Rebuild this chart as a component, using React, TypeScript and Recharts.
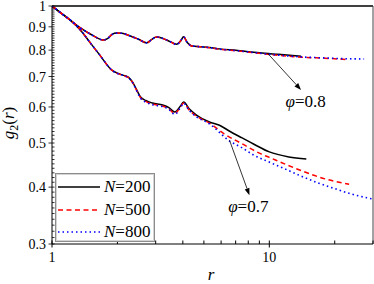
import React from "react";
import {
  Legend,
  Line,
  LineChart,
  ReferenceDot,
  ReferenceLine,
  XAxis,
  YAxis,
} from "recharts";

// phi = 0.8 branch
const r08n200 = [1, 1.1, 1.21, 1.35, 1.5, 1.62, 1.71, 1.8, 1.89, 1.98, 2.1, 2.28, 2.5, 2.73, 2.88, 3.03, 3.25, 3.5, 3.74, 3.92, 4.03, 4.2, 4.4, 4.8, 5.3, 5.9, 7, 9, 11, 14];
const g08n200 = [1, 0.965, 0.932, 0.895, 0.868, 0.85, 0.842, 0.848, 0.866, 0.872, 0.871, 0.86, 0.845, 0.83, 0.845, 0.855, 0.848, 0.835, 0.824, 0.84, 0.856, 0.83, 0.817, 0.814, 0.811, 0.805, 0.799, 0.789, 0.783, 0.776];
const r08n500 = [1, 1.1, 1.21, 1.35, 1.5, 1.62, 1.71, 1.8, 1.89, 1.98, 2.1, 2.28, 2.5, 2.73, 2.88, 3.03, 3.25, 3.5, 3.74, 3.92, 4.03, 4.2, 4.4, 4.8, 5.3, 5.9, 7, 9, 11, 14, 18, 22.5];
const g08n500 = [1, 0.965, 0.932, 0.895, 0.868, 0.85, 0.842, 0.848, 0.866, 0.872, 0.871, 0.86, 0.845, 0.83, 0.845, 0.855, 0.848, 0.835, 0.823, 0.84, 0.855, 0.83, 0.817, 0.814, 0.81, 0.804, 0.798, 0.787, 0.779, 0.772, 0.768, 0.763];
const r08n800 = [1, 1.1, 1.21, 1.35, 1.5, 1.62, 1.71, 1.8, 1.89, 1.98, 2.1, 2.28, 2.5, 2.73, 2.88, 3.03, 3.25, 3.5, 3.74, 3.92, 4.03, 4.2, 4.4, 4.8, 5.3, 5.9, 7, 9, 11, 14, 18, 22, 27.3];
const g08n800 = [1, 0.965, 0.932, 0.895, 0.868, 0.85, 0.842, 0.848, 0.866, 0.872, 0.871, 0.86, 0.845, 0.83, 0.845, 0.855, 0.848, 0.835, 0.823, 0.84, 0.855, 0.83, 0.817, 0.814, 0.81, 0.804, 0.798, 0.788, 0.78, 0.773, 0.769, 0.766, 0.765];

// phi = 0.7 branch
const r07n200 = [1, 1.1, 1.21, 1.35, 1.5, 1.66, 1.885, 2.0, 2.12, 2.25, 2.35, 2.45, 2.55, 2.7, 2.9, 3.23, 3.45, 3.67, 3.9, 4.03, 4.3, 4.62, 5.3, 5.9, 6.6, 7.5, 8.5, 10, 12.3, 14.8];
const g07n200 = [1, 0.965, 0.932, 0.886, 0.83, 0.78, 0.723, 0.712, 0.705, 0.697, 0.68, 0.655, 0.632, 0.62, 0.612, 0.606, 0.598, 0.585, 0.603, 0.615, 0.593, 0.576, 0.556, 0.547, 0.53, 0.513, 0.497, 0.478, 0.466, 0.461];
const r07n500 = [1, 1.1, 1.21, 1.35, 1.5, 1.66, 1.885, 2.0, 2.12, 2.25, 2.35, 2.45, 2.55, 2.7, 2.9, 3.23, 3.45, 3.67, 3.9, 4.03, 4.3, 4.62, 5.3, 6.3, 7.5, 9, 10, 12, 14, 16.9, 20, 23.3];
const g07n500 = [1, 0.965, 0.932, 0.886, 0.83, 0.78, 0.723, 0.711, 0.704, 0.696, 0.679, 0.653, 0.63, 0.617, 0.609, 0.603, 0.594, 0.58, 0.6, 0.612, 0.589, 0.573, 0.553, 0.521, 0.498, 0.475, 0.465, 0.448, 0.435, 0.421, 0.412, 0.406];
const r07n800 = [1, 1.1, 1.21, 1.35, 1.5, 1.66, 1.885, 2.0, 2.12, 2.25, 2.35, 2.45, 2.55, 2.7, 2.9, 3.23, 3.45, 3.67, 3.9, 4.03, 4.3, 4.62, 5.3, 6.56, 7.5, 8.5, 10, 12, 14, 16.9, 20, 24, 29.7];
const g07n800 = [1, 0.965, 0.932, 0.886, 0.83, 0.78, 0.723, 0.711, 0.704, 0.695, 0.678, 0.652, 0.628, 0.615, 0.607, 0.601, 0.593, 0.578, 0.598, 0.611, 0.588, 0.571, 0.551, 0.505, 0.488, 0.47, 0.454, 0.437, 0.423, 0.408, 0.397, 0.386, 0.377];

const legendNames = ["200", "500", "800"];
const xTicks = [1, 2, 3, 4, 5, 6, 7, 8, 9, 10, 20, 30];
const xTickLabels = ["1", "10"];
const yTickLabels = ["0.3", "0.4", "0.5", "0.6", "0.7", "0.8", "0.9", "1"];

// minor ticks every 0.01 between 0.3 and 1
const yTicks: number[] = [];
for (let k = 30; k <= 100; k++) yTicks.push(k / 100);

const pts = (rs: number[], gs: number[]) => rs.map((r, i) => ({ r, g: gs[i] }));

const FONT = "Liberation Serif, DejaVu Serif, serif";
const styles = [
  { color: "#000000", dash: undefined as string | undefined, width: 1.5 },
  { color: "#ff0000", dash: "5 3.5", width: 1.5 },
  { color: "#0000ff", dash: "1.5 3", width: 1.6 },
];

const XTick = (props: any) => {
  const { x, y, payload } = props;
  const label = String(payload.value);
  const major = xTickLabels.includes(label);
  return (
    <g>
      <line x1={x} x2={x} y1={major ? y + 3.5 : y} y2={y - 3.5} stroke="#000" strokeWidth={1} />
      {major && (
        <text x={x} y={y + 18} textAnchor="middle" fontSize={14} fontFamily={FONT} fill="#000">
          {label}
        </text>
      )}
    </g>
  );
};

const YTick = (props: any) => {
  const { x, y, payload } = props;
  const label = String(Math.round(payload.value * 10) / 10);
  const major = Math.round(payload.value * 100) % 10 === 0 && yTickLabels.includes(label);
  return (
    <g>
      <line x1={major ? x - 3.5 : x} x2={x + 2.5} y1={y} y2={y} stroke="#000" strokeWidth={0.8} />
      {major && (
        <text x={x - 6} y={y + 5} textAnchor="end" fontSize={14} fontFamily={FONT} fill="#000">
          {label}
        </text>
      )}
    </g>
  );
};

const Arrow = (props: any) => {
  const { x1, y1, x2, y2 } = props;
  const a = Math.atan2(y2 - y1, x2 - x1);
  const hl = 7;
  const hw = 2.5;
  const bx = x2 - hl * Math.cos(a);
  const by = y2 - hl * Math.sin(a);
  const px = -Math.sin(a) * hw;
  const py = Math.cos(a) * hw;
  return (
    <g>
      <line x1={x1} y1={y1} x2={bx} y2={by} stroke="#000" strokeWidth={0.8} />
      <polygon points={`${x2},${y2} ${bx + px},${by + py} ${bx - px},${by - py}`} fill="#000" />
    </g>
  );
};

const PhiLabel = (value: string) => (props: any) => (
  <text x={props.cx} y={props.cy + 6} textAnchor="middle" fontSize={17} fontFamily={FONT} fill="#000">
    <tspan fontStyle="italic">φ</tspan>={value}
  </text>
);

const LegendBox = () => (
  <div
    style={{
      position: "relative",
      width: 100,
      height: 69,
      boxSizing: "border-box",
      border: "1px solid #8c8c8c",
      boxShadow: "inset 0 0 0 1px #d4d4d4",
      background: "#fff",
      fontFamily: FONT,
      fontSize: 17,
      color: "#000",
    }}
  >
    {legendNames.map((n, i) => (
      <div key={n} style={{ position: "absolute", left: 1, top: 2 + i * 22.5, height: 22, width: 96 }}>
        <svg width={44} height={22} style={{ position: "absolute", left: 0, top: 0 }}>
          <line
            x1={1}
            x2={43}
            y1={11}
            y2={11}
            stroke={styles[i].color}
            strokeWidth={styles[i].width}
            strokeDasharray={styles[i].dash}
          />
        </svg>
        <span style={{ position: "absolute", left: 47, top: 0, lineHeight: "22px", whiteSpace: "nowrap" }}>
          <i>N</i>={n}
        </span>
      </div>
    ))}
  </div>
);

const series = [
  { key: "a200", data: pts(r08n200, g08n200), s: 0 },
  { key: "b200", data: pts(r07n200, g07n200), s: 0 },
  { key: "a500", data: pts(r08n500, g08n500), s: 1 },
  { key: "b500", data: pts(r07n500, g07n500), s: 1 },
  { key: "a800", data: pts(r08n800, g08n800), s: 2 },
  { key: "b800", data: pts(r07n800, g07n800), s: 2 },
];

export default function App() {
  return (
    <div style={{ position: "absolute", left: 0, top: 0, width: 374, height: 284, background: "#fff" }}>
      <LineChart width={374} height={284} margin={{ top: 6, right: 1, bottom: 10, left: 8 }}>
        <XAxis
          dataKey="r"
          type="number"
          scale="log"
          domain={[1, 30]}
          allowDataOverflow
          ticks={xTicks}
          interval={0}
          tick={<XTick />}
          tickLine={false}
          tickSize={0}
          tickMargin={0}
          height={30}
          axisLine={{ stroke: "#000", strokeWidth: 1 }}
        />
        <YAxis
          dataKey="g"
          type="number"
          scale="log"
          domain={[0.3, 1]}
          allowDataOverflow
          ticks={yTicks}
          interval={0}
          tick={<YTick />}
          tickLine={false}
          tickSize={0}
          tickMargin={0}
          width={44}
          axisLine={{ stroke: "#000", strokeWidth: 1 }}
        />
        <ReferenceLine y={1} stroke="#000" strokeWidth={1.5} />
        <ReferenceLine x={30} stroke="#444" strokeWidth={1} />
        {series.map((sr) => (
          <Line
            key={sr.key}
            data={sr.data}
            dataKey="g"
            type="monotone"
            stroke={styles[sr.s].color}
            strokeWidth={styles[sr.s].width}
            strokeDasharray={styles[sr.s].dash}
            dot={false}
            isAnimationActive={false}
            legendType="none"
          />
        ))}
        <ReferenceLine segment={[{ x: 9.8, y: 0.788 }, { x: 14, y: 0.654 }]} shape={Arrow} />
        <ReferenceLine segment={[{ x: 6.56, y: 0.507 }, { x: 8.1, y: 0.384 }]} shape={Arrow} />
        <ReferenceDot x={14.7} y={0.618} r={0} shape={PhiLabel("0.8")} />
        <ReferenceDot x={8.0} y={0.363} r={0} shape={PhiLabel("0.7")} />
        <Legend
          layout="vertical"
          align="center"
          verticalAlign="middle"
          content={() => <LegendBox />}
          wrapperStyle={{ left: 55, top: 173, width: 100, height: 69 }}
        />
      </LineChart>
      <div
        style={{
          position: "absolute",
          left: 10,
          top: 123,
          transform: "translate(-50%, -50%) rotate(-90deg)",
          fontFamily: FONT,
          fontSize: 17,
          whiteSpace: "nowrap",
          lineHeight: 1,
        }}
      >
        <i>g</i>
        <sub style={{ fontSize: 12 }}>2</sub>(<i>r</i>)
      </div>
      <div
        style={{
          position: "absolute",
          left: 211,
          top: 274,
          transform: "translate(-50%, -50%)",
          fontFamily: FONT,
          fontSize: 17,
          fontStyle: "italic",
          lineHeight: 1,
        }}
      >
        r
      </div>
    </div>
  );
}
